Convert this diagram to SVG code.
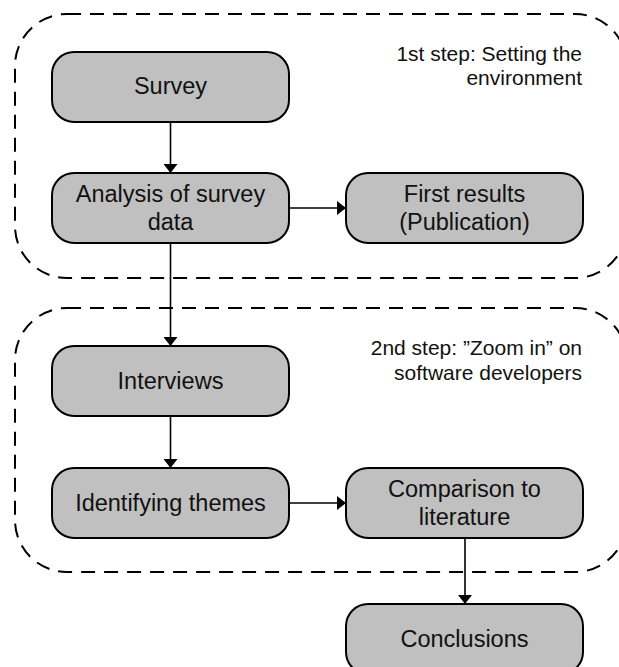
<svg xmlns="http://www.w3.org/2000/svg" width="619" height="667" viewBox="0 0 619 667">
<style>
.grp{fill:none;stroke:#000;stroke-width:2;stroke-dasharray:14 9;}
.box{fill:#c0c0c0;stroke:#000;stroke-width:2;}
.t{font-family:"Liberation Sans",Arial,sans-serif;font-size:23.5px;fill:#111;text-anchor:middle;}
.lbl{font-family:"Liberation Sans",Arial,sans-serif;font-size:21px;fill:#111;text-anchor:end;}
.c{fill:none;stroke:#000;stroke-width:1.6;}
</style>
<defs>
<marker id="ah" markerUnits="userSpaceOnUse" markerWidth="10" markerHeight="14" refX="9" refY="7" orient="auto">
<path d="M0,0 L9,7 L0,14 Z" fill="#000"/>
</marker>
</defs>
<g id="step1">
<rect class="grp" x="15" y="14" width="612" height="264" rx="52" ry="52"/>
<text class="lbl" x="582" y="61">1st step: Setting the</text>
<text class="lbl" x="582" y="85">environment</text>
</g>
<g id="step2">
<rect class="grp" x="15" y="308" width="612" height="264" rx="52" ry="52"/>
<text class="lbl" x="582" y="355">2nd step: ”Zoom in” on</text>
<text class="lbl" x="582" y="380">software developers</text>
</g>
<g id="connectors">
<line class="c" x1="170.5" y1="122" x2="170.5" y2="173" marker-end="url(#ah)"/>
<line class="c" x1="290" y1="208" x2="346" y2="208" marker-end="url(#ah)"/>
<line class="c" x1="170.5" y1="243" x2="170.5" y2="346" marker-end="url(#ah)"/>
<line class="c" x1="170.5" y1="416" x2="170.5" y2="468" marker-end="url(#ah)"/>
<line class="c" x1="290" y1="503" x2="346" y2="503" marker-end="url(#ah)"/>
<line class="c" x1="465" y1="538" x2="465" y2="604" marker-end="url(#ah)"/>
</g>
<g id="survey">
<rect class="box" x="52" y="52" width="237" height="70" rx="22" ry="22"/>
<text class="t" x="170.5" y="94">Survey</text>
</g>
<g id="analysis">
<rect class="box" x="52" y="173" width="237" height="70" rx="22" ry="22"/>
<text class="t" x="170.5" y="202">Analysis of survey</text>
<text class="t" x="170.5" y="230">data</text>
</g>
<g id="first-results">
<rect class="box" x="346" y="173" width="237" height="70" rx="22" ry="22"/>
<text class="t" x="464.5" y="202">First results</text>
<text class="t" x="464.5" y="230">(Publication)</text>
</g>
<g id="interviews">
<rect class="box" x="52" y="346" width="237" height="70" rx="22" ry="22"/>
<text class="t" x="170.5" y="389">Interviews</text>
</g>
<g id="identifying">
<rect class="box" x="52" y="468" width="237" height="70" rx="22" ry="22"/>
<text class="t" x="170.5" y="511">Identifying themes</text>
</g>
<g id="comparison">
<rect class="box" x="346" y="468" width="237" height="70" rx="22" ry="22"/>
<text class="t" x="464.5" y="497">Comparison to</text>
<text class="t" x="464.5" y="525">literature</text>
</g>
<g id="conclusions">
<rect class="box" x="346" y="604" width="237" height="70" rx="22" ry="22"/>
<text class="t" x="464.5" y="647">Conclusions</text>
</g>
</svg>
